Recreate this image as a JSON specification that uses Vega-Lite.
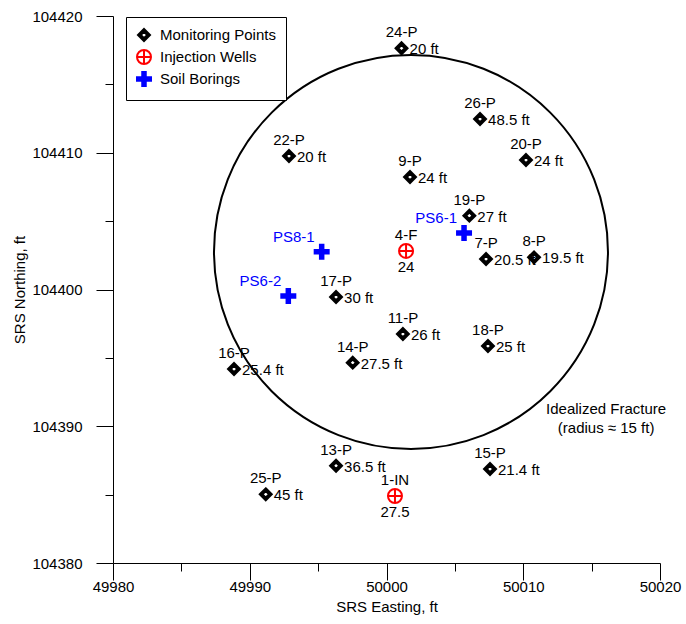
{
  "$schema": "https://vega.github.io/schema/vega-lite/v6.json",
  "width": 547,
  "height": 547,
  "autosize": "none",
  "padding": {"left": 113, "top": 16, "right": 26, "bottom": 61},
  "background": "white",
  "config": {
    "font": "Liberation Sans",
    "view": {"stroke": null},
    "axis": {
      "domainColor": "black", "domainWidth": 1, "tickColor": "black", "tickWidth": 1,
      "labelColor": "black", "titleColor": "black", "labelFontSize": 15, "titleFontSize": 15,
      "titleFontWeight": "normal", "grid": false, "labelFont": "Liberation Sans", "titleFont": "Liberation Sans",
      "labelOverlap": false, "labelFlush": false
    },
    "legend": {"strokeColor": "black", "strokeWidth": 1, "fillColor": "white"}
  },
  "datasets": {
    "wells": [
      {"name": "24-P", "type": "Monitoring Points", "x": 50001.1, "y": 104417.64, "depth": "20 ft"},
      {"name": "26-P", "type": "Monitoring Points", "x": 50006.84, "y": 104412.47, "depth": "48.5 ft"},
      {"name": "22-P", "type": "Monitoring Points", "x": 49992.87, "y": 104409.76, "depth": "20 ft"},
      {"name": "20-P", "type": "Monitoring Points", "x": 50010.2, "y": 104409.47, "depth": "24 ft"},
      {"name": "9-P", "type": "Monitoring Points", "x": 50001.72, "y": 104408.23, "depth": "24 ft"},
      {"name": "19-P", "type": "Monitoring Points", "x": 50006.06, "y": 104405.4, "depth": "27 ft"},
      {"name": "7-P", "type": "Monitoring Points", "x": 50007.28, "y": 104402.23, "depth": "20.5 ft"},
      {"name": "8-P", "type": "Monitoring Points", "x": 50010.79, "y": 104402.35, "depth": "19.5 ft"},
      {"name": "17-P", "type": "Monitoring Points", "x": 49996.31, "y": 104399.45, "depth": "30 ft"},
      {"name": "11-P", "type": "Monitoring Points", "x": 50001.2, "y": 104396.75, "depth": "26 ft"},
      {"name": "18-P", "type": "Monitoring Points", "x": 50007.42, "y": 104395.87, "depth": "25 ft"},
      {"name": "14-P", "type": "Monitoring Points", "x": 49997.53, "y": 104394.65, "depth": "27.5 ft"},
      {"name": "16-P", "type": "Monitoring Points", "x": 49988.85, "y": 104394.19, "depth": "25.4 ft"},
      {"name": "13-P", "type": "Monitoring Points", "x": 49996.31, "y": 104387.11, "depth": "36.5 ft"},
      {"name": "15-P", "type": "Monitoring Points", "x": 50007.57, "y": 104386.87, "depth": "21.4 ft"},
      {"name": "25-P", "type": "Monitoring Points", "x": 49991.17, "y": 104385.02, "depth": "45 ft"},
      {"name": "4-F", "type": "Injection Wells", "x": 50001.43, "y": 104402.82, "depth": "24"},
      {"name": "1-IN", "type": "Injection Wells", "x": 50000.62, "y": 104384.9, "depth": "27.5"},
      {"name": "PS6-1", "type": "Soil Borings", "x": 50005.67, "y": 104404.13, "depth": ""},
      {"name": "PS8-1", "type": "Soil Borings", "x": 49995.26, "y": 104402.76, "depth": ""},
      {"name": "PS6-2", "type": "Soil Borings", "x": 49992.82, "y": 104399.52, "depth": ""}
    ],
    "fracture": [{"x": 50001.79, "y": 104402.75}],
    "note": [{"x": 50016.06, "y": 104391.26, "text": "Idealized Fracture\n(radius ≈ 15 ft)"}]
  },
  "encoding": {
    "x": {
      "field": "x", "type": "quantitative",
      "scale": {"domain": [49980, 50020], "nice": false, "zero": false},
      "axis": {
        "title": "SRS Easting, ft",
        "values": [49980, 49985, 49990, 49995, 50000, 50005, 50010, 50015, 50020],
        "format": "d",
        "labelExpr": "datum.value % 10 === 0 ? datum.label : ''",
        "tickSize": {"condition": {"test": "datum.value % 10 === 0", "value": 17}, "value": 8},
        "labelPadding": -1,
        "titlePadding": 5
      }
    },
    "y": {
      "field": "y", "type": "quantitative",
      "scale": {"domain": [104380, 104420], "nice": false, "zero": false},
      "axis": {
        "title": "SRS Northing, ft",
        "values": [104380, 104385, 104390, 104395, 104400, 104405, 104410, 104415, 104420],
        "format": "d",
        "labelExpr": "datum.value % 10 === 0 ? datum.label : ''",
        "tickSize": {"condition": {"test": "datum.value % 10 === 0", "value": 17}, "value": 8},
        "labelPadding": 14,
        "titlePadding": 4
      }
    }
  },
  "layer": [
    {
      "data": {"name": "fracture"},
      "mark": {"type": "point", "shape": "circle", "size": 155236, "filled": false, "stroke": "black", "strokeWidth": 2, "opacity": 1}
    },
    {
      "data": {"name": "wells"},
      "mark": {"type": "point", "opacity": 1, "size": 196, "strokeWidth": 2},
      "encoding": {
        "shape": {
          "field": "type", "type": "nominal",
          "scale": {"domain": ["Monitoring Points", "Injection Wells", "Soil Borings"],
                    "range": [
                      "M0,-0.86L0.86,0L0,0.86L-0.86,0ZM0,-0.46L-0.46,0L0,0.46L0.46,0Z",
                      "M-1,0A1,1,0,1,1,1,0A1,1,0,1,1,-1,0ZM-1,0L1,0M0,-1L0,1",
                      "M-1,-0.25L-0.25,-0.25L-0.25,-1L0.25,-1L0.25,-0.25L1,-0.25L1,0.25L0.25,0.25L0.25,1L-0.25,1L-0.25,0.25L-1,0.25Z"
                    ]},
          "legend": {
            "title": null, "orient": "none", "legendX": 13, "legendY": 1, "padding": 10,
            "labelFontSize": 15, "labelFont": "Liberation Sans", "labelColor": "black", "rowPadding": 0, "labelOffset": 8,
            "symbolSize": 196, "symbolStrokeWidth": 2
          }
        },
        "stroke": {
          "field": "type", "type": "nominal",
          "scale": {"domain": ["Monitoring Points", "Injection Wells", "Soil Borings"], "range": ["black", "red", "blue"]}
        },
        "fill": {
          "field": "type", "type": "nominal",
          "scale": {"domain": ["Monitoring Points", "Injection Wells", "Soil Borings"], "range": ["black", "white", "blue"]}
        }
      }
    },
    {
      "data": {"name": "wells"},
      "transform": [{"filter": "datum.type !== 'Soil Borings'"}],
      "mark": {"type": "text", "align": "center", "baseline": "middle", "dy": -16, "fontSize": 15, "color": "black"},
      "encoding": {"text": {"field": "name"}}
    },
    {
      "data": {"name": "wells"},
      "transform": [{"filter": "datum.type === 'Soil Borings'"}],
      "mark": {"type": "text", "align": "right", "baseline": "middle", "dx": -7, "dy": -15, "fontSize": 15, "color": "blue"},
      "encoding": {"text": {"field": "name"}}
    },
    {
      "data": {"name": "wells"},
      "transform": [{"filter": "datum.type === 'Monitoring Points'"}],
      "mark": {"type": "text", "align": "left", "baseline": "middle", "dx": 8, "dy": 1, "fontSize": 15, "color": "black"},
      "encoding": {"text": {"field": "depth"}}
    },
    {
      "data": {"name": "wells"},
      "transform": [{"filter": "datum.type === 'Injection Wells'"}],
      "mark": {"type": "text", "align": "center", "baseline": "middle", "dy": 16, "fontSize": 15, "color": "black"},
      "encoding": {"text": {"field": "depth"}}
    },
    {
      "data": {"name": "note"},
      "mark": {"type": "text", "align": "center", "baseline": "middle", "lineBreak": "\n", "lineHeight": 19, "fontSize": 15, "color": "black"},
      "encoding": {"text": {"field": "text"}}
    }
  ]
}
